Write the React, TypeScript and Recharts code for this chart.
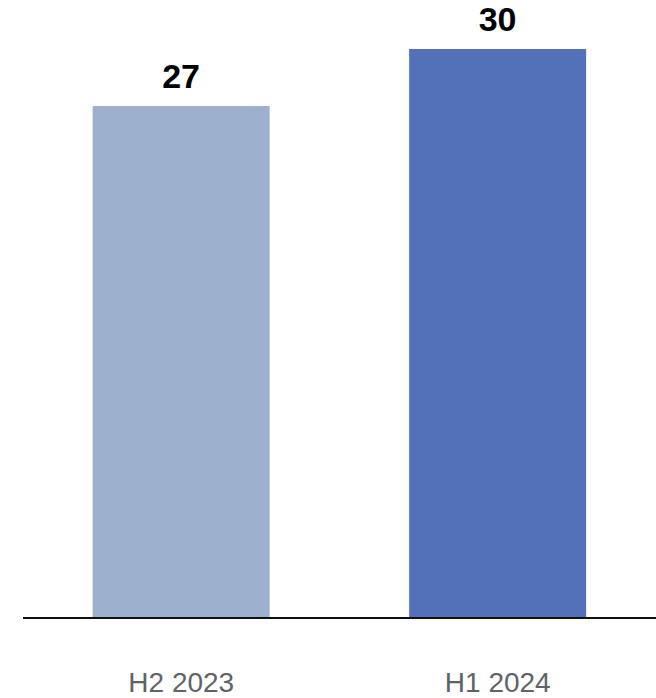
import { BarChart, Bar, XAxis, YAxis, Cell, LabelList } from 'recharts';

// Half-year periods and their values
const periods = ['H2 2023', 'H1 2024'];
const values = [27, 30];
const barColors = ['#9db0ce', '#5271b8'];

const data = periods.map((p, i) => ({ period: p, value: values[i] }));

export default function App() {
  return (
    <div style={{ position: 'absolute', left: 0, top: 0, background: '#fff' }}>
      <BarChart
        width={656}
        height={698}
        data={data}
        margin={{ top: 49, right: 0, bottom: 0, left: 23 }}
        barCategoryGap="22%"
      >
        <XAxis
          dataKey="period"
          height={80}
          tickLine={false}
          tickSize={0}
          tickMargin={54}
          axisLine={{ stroke: '#111', strokeWidth: 2 }}
          tick={{ fill: '#5f6368', fontSize: 28, fontFamily: 'Liberation Sans, Arial, sans-serif' }}
        />
        <YAxis hide domain={[0, 30]} />
        <Bar dataKey="value" isAnimationActive={false}>
          {data.map((d, i) => (
            <Cell key={d.period} fill={barColors[i]} />
          ))}
          <LabelList
            dataKey="value"
            position="top"
            offset={18}
            fill="#000"
            fontSize={34}
            fontWeight="bold"
            fontFamily="Liberation Sans, Arial, sans-serif"
          />
        </Bar>
      </BarChart>
    </div>
  );
}
